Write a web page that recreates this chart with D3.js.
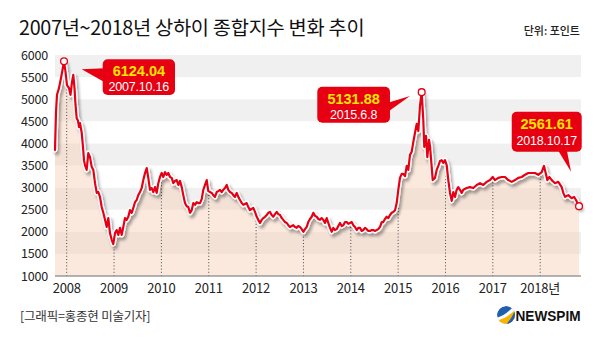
<!DOCTYPE html>
<html><head><meta charset="utf-8">
<script src="https://cdn.jsdelivr.net/npm/d3@7"></script>
<style>
body{margin:0;background:#fff}
svg{display:block}
text{font-family:"Noto Sans CJK KR","Noto Sans",sans-serif}
text.lat{font-family:"Liberation Sans",Arial,sans-serif}
</style>
</head><body><svg id="c" width="600" height="340"></svg>
<script>
const dates = [2007.753,2007.774,2007.795,2007.837,2007.880,2007.911,2007.943,2007.975,2008.006,2008.049,2008.080,2008.112,2008.139,2008.165,2008.186,2008.211,2008.239,2008.260,2008.281,2008.317,2008.344,2008.365,2008.386,2008.422,2008.456,2008.492,2008.528,2008.562,2008.598,2008.634,2008.667,2008.703,2008.739,2008.773,2008.809,2008.845,2008.879,2008.914,2008.950,2008.984,2009.020,2009.056,2009.090,2009.126,2009.162,2009.195,2009.231,2009.267,2009.301,2009.337,2009.373,2009.407,2009.442,2009.478,2009.512,2009.548,2009.584,2009.618,2009.654,2009.690,2009.723,2009.759,2009.795,2009.829,2009.865,2009.901,2009.935,2009.970,2010.006,2010.040,2010.076,2010.112,2010.146,2010.182,2010.218,2010.251,2010.287,2010.323,2010.357,2010.393,2010.429,2010.462,2010.498,2010.534,2010.568,2010.604,2010.640,2010.674,2010.710,2010.746,2010.779,2010.815,2010.851,2010.885,2010.921,2010.957,2010.990,2011.026,2011.062,2011.096,2011.132,2011.168,2011.202,2011.238,2011.273,2011.307,2011.343,2011.379,2011.413,2011.449,2011.485,2011.518,2011.554,2011.590,2011.624,2011.660,2011.696,2011.730,2011.766,2011.801,2011.835,2011.871,2011.907,2011.941,2011.977,2012.013,2012.046,2012.082,2012.118,2012.152,2012.188,2012.224,2012.258,2012.294,2012.329,2012.363,2012.399,2012.435,2012.469,2012.505,2012.541,2012.574,2012.610,2012.646,2012.680,2012.716,2012.752,2012.786,2012.822,2012.857,2012.891,2012.927,2012.963,2012.997,2013.033,2013.069,2013.102,2013.138,2013.174,2013.208,2013.244,2013.280,2013.314,2013.350,2013.385,2013.419,2013.455,2013.491,2013.525,2013.561,2013.597,2013.630,2013.666,2013.702,2013.736,2013.772,2013.808,2013.842,2013.878,2013.913,2013.947,2013.983,2014.019,2014.053,2014.089,2014.125,2014.158,2014.194,2014.230,2014.264,2014.300,2014.336,2014.370,2014.405,2014.441,2014.475,2014.511,2014.547,2014.581,2014.617,2014.653,2014.686,2014.722,2014.758,2014.792,2014.828,2014.864,2014.898,2014.934,2014.969,2015.003,2015.039,2015.075,2015.109,2015.145,2015.181,2015.214,2015.250,2015.286,2015.320,2015.356,2015.392,2015.426,2015.461,2015.497,2015.531,2015.552,2015.588,2015.616,2015.652,2015.674,2015.708,2015.730,2015.778,2015.814,2015.848,2015.884,2015.920,2015.954,2015.989,2016.025,2016.059,2016.095,2016.131,2016.165,2016.201,2016.236,2016.270,2016.306,2016.342,2016.376,2016.448,2016.517,2016.587,2016.659,2016.729,2016.798,2016.870,2016.940,2016.997,2017.045,2017.115,2017.187,2017.257,2017.326,2017.398,2017.468,2017.537,2017.609,2017.679,2017.749,2017.821,2017.890,2017.960,2018.032,2018.080,2018.116,2018.150,2018.192,2018.243,2018.313,2018.382,2018.454,2018.488,2018.524,2018.593,2018.665,2018.714,2018.756,2018.820];
const values = [3850,4710,5100,5250,5480,5660,5860,5620,5320,5250,5100,5390,5550,5250,4870,4570,4510,4370,4460,4240,3920,3620,3510,3400,3780,3690,3470,3400,3100,2880,2900,2790,2560,2430,2270,2110,2310,1970,1820,1720,
1970,2040,1930,2090,1930,2110,2310,2270,2340,2490,2430,2540,2670,2720,2830,2900,2990,3170,3330,3440,
3220,2950,2990,2900,3010,2880,3100,3240,3330,3240,3350,3290,3330,3240,3220,3100,3150,3170,3060,3150,
3010,2830,2650,2580,2560,2430,2490,2650,2610,2670,2650,2650,2740,2950,3060,3170,2920,2900,2880,2830,
2790,2900,2920,2950,2900,2950,2990,3060,2950,2900,2880,2830,2790,2880,2790,2720,2650,2610,2630,2650,
2560,2490,2520,2540,2450,2340,2270,2200,2270,2310,2340,2380,2430,2450,2380,2340,2400,2450,2400,2380,
2310,2270,2220,2200,2150,2110,2130,2150,2110,2090,2130,2110,2060,2000,2060,2110,2220,2290,2340,2430,
2360,2340,2290,2270,2310,2270,2200,2310,2200,2090,2000,2090,2040,2060,2130,2200,2130,2150,2220,2220,
2180,2200,2220,2150,2110,2040,2090,2090,2020,2040,2090,2060,2020,2020,2040,2040,2020,2040,2060,2110,
2220,2220,2290,2340,2310,2380,2430,2450,2490,2650,2950,3220,3310,3310,3260,3490,3400,3740,3810,4030,
4240,4440,4280,4850,5160,4530,3920,4170,3690,4080,3920,3470,3170,3220,3400,3490,3600,3620,3560,3620,
3510,3170,2880,2700,2900,2790,2950,3010,2950,2880,2950,2990,3010,2990,3060,3100,3060,3130,3170,3240,
3170,3220,3240,3240,3170,3130,3170,3220,3240,3290,3330,3330,3330,3290,3350,3490,3330,3170,3240,3170,
3100,3130,3010,2880,2790,2830,2760,2790,2720,2580];
const yTicks = [1000,1500,2000,2500,3000,3500,4000,4500,5000,5500,6000];
const yearTicks = [2008,2009,2010,2011,2012,2013,2014,2015,2016,2017,2018];
const yearLabels = ["2008","2009","2010","2011","2012","2013","2014","2015","2016","2017","2018년"];
const annDates = [2007.943, 2015.497, 2018.820];
const annValues = ["6124.04","5131.88","2561.61"];
const annDays = ["2007.10.16","2015.6.8","2018.10.17"];
const titleText = "2007년~2018년 상하이 종합지수 변화 추이";
const unitText = "단위: 포인트";
const creditText = "[그래픽=홍종현 미술기자]";
const brandText = "NEWSPIM";

const RED = "#e60012";
const svg = d3.select("#c");
const left = 55, right = 581;
const x = d3.scaleLinear().domain([2008, 2018]).range([66.7, 540.2]);
const y = d3.scaleLinear().domain([1000, 6000]).range([276, 55]);
const data = dates.map((d, i) => ({t: d, v: values[i]}));

const defs = svg.append("defs");
const f = defs.append("filter").attr("id", "sh").attr("x", "-5%").attr("y", "-10%").attr("width", "115%").attr("height", "130%");
f.append("feGaussianBlur").attr("in", "SourceAlpha").attr("stdDeviation", 1.6).attr("result", "b");
f.append("feOffset").attr("in", "b").attr("dx", 2).attr("dy", 3).attr("result", "o");
f.append("feFlood").attr("flood-color", "#000").attr("flood-opacity", 0.35).attr("result", "fl");
f.append("feComposite").attr("in", "fl").attr("in2", "o").attr("operator", "in").attr("result", "s");
const fm = f.append("feMerge");
fm.append("feMergeNode").attr("in", "s");
fm.append("feMergeNode").attr("in", "SourceGraphic");

// stripes
for (let i = 0; i < yTicks.length - 1; i++) {
  svg.append("rect")
    .attr("x", left).attr("width", right - left)
    .attr("y", y(yTicks[i + 1])).attr("height", y(yTicks[i]) - y(yTicks[i + 1]))
    .attr("fill", i % 2 === 1 ? "#f0f0f0" : "#ffffff");
}

// area
svg.append("path").datum(data)
  .attr("d", d3.area().x(d => x(d.t)).y0(y(1000)).y1(d => y(d.v)))
  .attr("fill", "#f7d0bb").attr("fill-opacity", 0.48);

// dotted year lines
const bis = d3.bisector(d => d.t).left;
function valAt(t) {
  const i = bis(data, t);
  const a = data[i - 1], b = data[i];
  return a.v + (b.v - a.v) * (t - a.t) / (b.t - a.t);
}
svg.append("g").selectAll("line").data(yearTicks).join("line")
  .attr("x1", d => x(d)).attr("x2", d => x(d))
  .attr("y1", y(1000)).attr("y2", d => y(valAt(d)))
  .attr("stroke", "#444").attr("stroke-width", 1).attr("stroke-dasharray", "1,2.2");

// baseline axis
svg.append("line").attr("x1", left).attr("x2", right).attr("y1", y(1000)).attr("y2", y(1000))
  .attr("stroke", "#9a9a9a").attr("stroke-width", 1.5);

// line
const line = d3.line().x(d => x(d.t)).y(d => y(d.v));
const lg = svg.append("g").attr("filter", "url(#sh)");
lg.append("path").datum(data).attr("d", line).attr("fill", "none")
  .attr("stroke", "#fff").attr("stroke-width", 5).attr("stroke-linejoin", "round").attr("stroke-linecap", "round");
lg.append("path").datum(data).attr("d", line).attr("fill", "none")
  .attr("stroke", RED).attr("stroke-width", 2.2).attr("stroke-linejoin", "round").attr("stroke-linecap", "round");

// y axis labels
svg.append("g").selectAll("text").data(yTicks).join("text")
  .attr("x", 48).attr("y", d => y(d)).attr("dy", "0.36em")
  .attr("text-anchor", "end").attr("font-size", 12.5).attr("fill", "#222")
  .attr("letter-spacing", "-0.2")
  .text(d => d);

// x axis labels
svg.append("g").selectAll("text").data(yearTicks).join("text")
  .attr("x", d => x(d)).attr("y", 293)
  .attr("text-anchor", "middle").attr("font-size", 13).attr("fill", "#222")
  .attr("letter-spacing", "-0.2")
  .text((d, i) => yearLabels[i]);

// annotations
const boxes = [
  {dx0: 38.7, dy0: -1.9, w: 72.3, h: 35.7, b1: 16.5, b2: 32, tip: [17.7, 8.1], side: "left"},
  {dx0: -104.4, dy0: -5.4, w: 72.7, h: 36, b1: 17, b2: 32.5, tip: [-11.7, 3.9], side: "right"},
  {dx0: -67.3, dy0: -94.4, w: 70, h: 40, b1: 17.5, b2: 33, tip: [-8, -34.4], side: "bottom"}
];
annDates.forEach((ad, k) => {
  const idx = d3.leastIndex(dates, d => Math.abs(d - ad));
  const px = x(dates[idx]), py = y(values[idx]);
  const b = boxes[k];
  const bx = px + b.dx0, by = py + b.dy0;
  const g = svg.append("g");
  let tri;
  const tx = px + b.tip[0], ty = py + b.tip[1];
  if (b.side === "left") tri = [[bx + 2, by + 9], [tx, ty], [bx + 2, by + 23]];
  else if (b.side === "right") tri = [[bx + b.w - 2, by + 16], [tx, ty], [bx + b.w - 2, by + 25]];
  else tri = [[bx + 46, by + b.h - 2], [tx, ty], [bx + 55, by + b.h - 2]];
  g.append("path").attr("d", "M" + tri.join("L") + "Z").attr("fill", RED);
  g.append("rect").attr("x", bx).attr("y", by).attr("width", b.w).attr("height", b.h)
    .attr("rx", 5).attr("fill", RED);
  const cx = bx + b.w / 2;
  g.append("text").attr("class", "lat").attr("x", cx).attr("y", by + b.b1).attr("text-anchor", "middle")
    .attr("font-size", 14.5).attr("font-weight", "bold").attr("fill", "#ffe500")
    .text(annValues[k]);
  g.append("text").attr("class", "lat").attr("x", cx).attr("y", by + b.b2).attr("text-anchor", "middle")
    .attr("font-size", 12.5).attr("fill", "#fff").attr("letter-spacing", "-0.2")
    .text(annDays[k]);
  svg.append("circle").attr("cx", px).attr("cy", py).attr("r", 3.4)
    .attr("fill", "#fff").attr("stroke", RED).attr("stroke-width", 1.3);
});

// title etc.
svg.append("text").attr("x", 19).attr("y", 35).attr("font-size", 19.8).attr("fill", "#111")
  .attr("letter-spacing", "-0.3").text(titleText);
svg.append("text").attr("x", 580).attr("y", 35).attr("text-anchor", "end")
  .attr("font-size", 11).attr("fill", "#222").attr("font-weight", 500).text(unitText);
svg.append("text").attr("x", 20).attr("y", 320.5).attr("font-size", 12.5).attr("fill", "#333")
  .attr("letter-spacing", "-0.2").text(creditText);

// logo
const lgo = svg.append("g").attr("transform", "translate(506,315)");
defs.append("clipPath").attr("id", "lc").append("circle").attr("r", 9);
const lc = lgo.append("g").attr("clip-path", "url(#lc)");
lc.append("circle").attr("r", 9).attr("fill", "#1f5fae");
lc.append("path").attr("d", "M-10,3 Q-1,1 8,-9 L12,-9 L12,12 L-10,12 Z").attr("fill", "#fff");
lc.append("path").attr("d", "M-10,6 Q0,4 9,-5 L12,12 L-10,12 Z").attr("fill", "#f5b400");
lc.append("path").attr("d", "M2,7 Q6,3 9,-5 L12,12 L0,12 Z").attr("fill", "#1f5fae");
svg.append("text").attr("class", "lat").attr("x", 515.5).attr("y", 320.5)
  .attr("font-size", 14.5).attr("font-weight", "bold").attr("fill", "#111")
  .attr("textLength", 65).attr("lengthAdjust", "spacingAndGlyphs").text(brandText);
</script>
</body></html>
